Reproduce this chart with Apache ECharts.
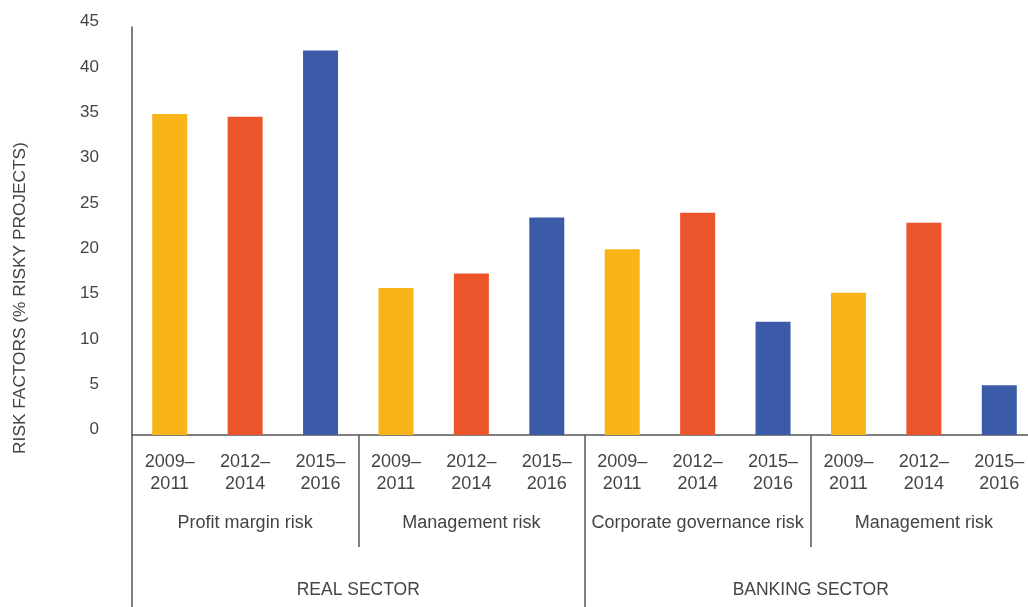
<!DOCTYPE html>
<html>
<head>
  <meta charset="utf-8">
  <title>Risk factors</title>
  <script src="https://cdn.jsdelivr.net/npm/echarts@6/dist/echarts.min.js"></script>
  <style>
    html, body { margin: 0; padding: 0; background: #fff; }
  </style>
</head>
<body>
  <div id="main" style="width:1028px;height:607px;"></div>
  <script type="text/javascript">
    // data
    var periods = ['2009–\n2011', '2012–\n2014', '2015–\n2016'];
    var risks = ['Profit margin risk', 'Management risk', 'Corporate governance risk', 'Management risk'];
    var sectors = ['REAL SECTOR', 'BANKING SECTOR'];
    var values = [35.4, 35.1, 42.4, 16.2, 17.8, 24.0, 20.5, 24.5, 12.5, 15.7, 23.4, 5.5];
    var yTicks = { min: 0, max: 45, interval: 5 };

    var periodColors = ['#F9B418', '#EC542B', '#3B5BA9'];
    var textColor = '#444';
    var lineColor = '#555';
    var font = 'Liberation Sans';

    var cats = [];
    var barData = [];
    for (var i = 0; i < values.length; i++) {
      cats.push(periods[i % periods.length]);
      barData.push({ value: values[i], itemStyle: { color: periodColors[i % periods.length] } });
    }

    var myChart = echarts.init(document.getElementById('main'));

    var option = {
      animation: false,
      grid: { left: 132, width: 905, top: 27, bottom: 172, containLabel: false, outerBoundsMode: 'none' },
      xAxis: [{
        type: 'category',
        data: cats,
        axisLine: { lineStyle: { color: lineColor, width: 1.5 } },
        axisTick: { show: false },
        axisLabel: { interval: 0, margin: 16, fontSize: 18, lineHeight: 22, color: textColor, fontFamily: font }
      }, {
        type: 'category',
        data: risks,
        position: 'bottom',
        axisLine: { show: false },
        axisTick: { show: true, length: 112, lineStyle: { color: lineColor, width: 1.5 } },
        axisLabel: { interval: 0, margin: 79, fontSize: 18, color: textColor, fontFamily: font }
      }, {
        type: 'category',
        data: sectors,
        position: 'bottom',
        axisLine: { show: false },
        axisTick: { show: true, length: 172, lineStyle: { color: lineColor, width: 1.5 } },
        axisLabel: { interval: 0, margin: 146, fontSize: 17.5, color: textColor, fontFamily: font }
      }],
      yAxis: {
        type: 'value',
        min: yTicks.min,
        max: yTicks.max,
        interval: yTicks.interval,
        name: 'RISK FACTORS (% RISKY PROJECTS)',
        nameLocation: 'middle',
        nameGap: 103,
        nameRotate: 90,
        nameTextStyle: { fontSize: 17.3, color: textColor, fontFamily: font, padding: [0, 134, 0, 0] },
        axisLine: { show: true, lineStyle: { color: lineColor, width: 1.5 } },
        axisTick: { show: false },
        splitLine: { show: false },
        axisLabel: { margin: 33, fontSize: 17, color: textColor, fontFamily: font, verticalAlign: 'bottom', lineHeight: 11 }
      },
      series: [{
        type: 'bar',
        xAxisIndex: 0,
        barWidth: 35,
        data: barData
      }]
    };

    myChart.setOption(option);
  </script>
</body>
</html>
